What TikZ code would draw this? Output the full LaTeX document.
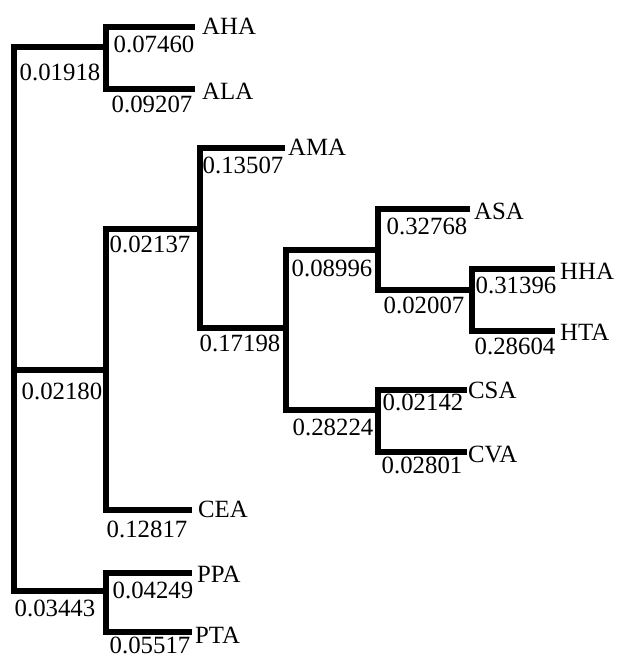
\documentclass[tikz,border=0pt]{standalone}
\usepackage{fontspec}
\setmainfont{Liberation Serif}
\begin{document}
\begin{tikzpicture}[x=1pt,y=-1pt,
  branch/.style={line width=5.4pt,line join=miter,line cap=rect},
  blen/.style={inner sep=0pt,anchor=center,font=\fontsize{24.8}{26}\selectfont},
  taxon/.style={inner sep=0pt,anchor=west,font=\fontsize{24.8}{26}\selectfont}]
\useasboundingbox (0,0) rectangle (622,657);
% internal junction coordinates
\coordinate (r1) at (14,47);
\coordinate (r2) at (14,370);
\coordinate (r3) at (14,591);
\coordinate (a1) at (106,47);
\coordinate (aT) at (106,27);
\coordinate (aB) at (106,89);
\coordinate (b0) at (106,370);
\coordinate (bT) at (106,229);
\coordinate (bB) at (106,510);
\coordinate (m0) at (200,229);
\coordinate (mT) at (200,148);
\coordinate (mB) at (200,328);
\coordinate (n0) at (286,328);
\coordinate (nT) at (286,250);
\coordinate (nB) at (286,410);
\coordinate (s0) at (378,250);
\coordinate (sT) at (378,209);
\coordinate (sB) at (378,290);
\coordinate (h0) at (472,290);
\coordinate (hT) at (472,269);
\coordinate (hB) at (472,331);
\coordinate (c0) at (378,410);
\coordinate (cT) at (378,390);
\coordinate (cB) at (378,452);
\coordinate (p0) at (106,591);
\coordinate (pT) at (106,573);
\coordinate (pB) at (106,632);
% leaf ends
\coordinate (eAHA) at (192,27);
\coordinate (eALA) at (192,89);
\coordinate (eAMA) at (282,148);
\coordinate (eASA) at (467,209);
\coordinate (eHHA) at (552,269);
\coordinate (eHTA) at (552,331);
\coordinate (eCSA) at (464,390);
\coordinate (eCVA) at (464,452);
\coordinate (eCEA) at (189,510);
\coordinate (ePPA) at (189,573);
\coordinate (ePTA) at (189,632);
% tree
\draw[branch] (a1) -- (r1) -- (r3) -- (p0);
\draw[branch] (r2) -- (b0);
\draw[branch] (eAHA) -- (aT) -- (aB) -- (eALA);
\draw[branch] (m0) -- (bT) -- (bB) -- (eCEA);
\draw[branch] (eAMA) -- (mT) -- (mB) -- (n0);
\draw[branch] (s0) -- (nT) -- (nB) -- (c0);
\draw[branch] (eASA) -- (sT) -- (sB) -- (h0);
\draw[branch] (eHHA) -- (hT) -- (hB) -- (eHTA);
\draw[branch] (eCSA) -- (cT) -- (cB) -- (eCVA);
\draw[branch] (ePPA) -- (pT) -- (pB) -- (ePTA);
% taxa
\node[taxon] (AHA) at (202,26) {AHA};
\node[taxon] (ALA) at (202,91) {ALA};
\node[taxon] (AMA) at (288,147) {AMA};
\node[taxon] (ASA) at (474,211) {ASA};
\node[taxon] (HHA) at (560,271) {HHA};
\node[taxon] (HTA) at (560,332) {HTA};
\node[taxon] (CSA) at (468,390) {CSA};
\node[taxon] (CVA) at (468,454) {CVA};
\node[taxon] (CEA) at (198,509) {CEA};
\node[taxon] (PPA) at (197,574) {PPA};
\node[taxon] (PTA) at (195,635) {PTA};
% branch lengths
\node[blen] (l1) at (60,72) {0.01918};
\node[blen] (l2) at (154,44) {0.07460};
\node[blen] (l3) at (152,104) {0.09207};
\node[blen] (l4) at (243,165) {0.13507};
\node[blen] (l5) at (427,226) {0.32768};
\node[blen] (l6) at (332,268) {0.08996};
\node[blen] (l7) at (424,305) {0.02007};
\node[blen] (l8) at (516,285) {0.31396};
\node[blen] (l9) at (515,346) {0.28604};
\node[blen] (l10) at (240,343) {0.17198};
\node[blen] (l11) at (150,244) {0.02137};
\node[blen] (l12) at (62,391) {0.02180};
\node[blen] (l13) at (147,529) {0.12817};
\node[blen] (l14) at (153,590) {0.04249};
\node[blen] (l15) at (55,608) {0.03443};
\node[blen] (l16) at (150,645) {0.05517};
\node[blen] (l17) at (333,427) {0.28224};
\node[blen] (l18) at (423,402) {0.02142};
\node[blen] (l19) at (422,465) {0.02801};
\end{tikzpicture}
\end{document}
